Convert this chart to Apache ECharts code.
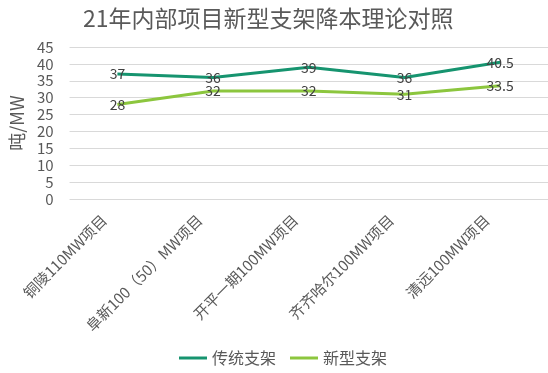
<!DOCTYPE html>
<html><head><meta charset="utf-8">
<script src="https://cdn.jsdelivr.net/npm/echarts@6/dist/echarts.min.js"></script>
<style>html,body{margin:0;padding:0;background:#fff}#c{width:548px;height:373px}</style>
</head><body><div id="c"></div>
<script>
const categories = ['铜陵110MW项目','阜新100（50）MW项目','开平一期100MW项目','齐齐哈尔100MW项目','清远100MW项目'];
const traditional = [37, 36, 39, 36, 40.5];
const newType = [28, 32, 32, 31, 33.5];
const seriesNames = ['传统支架','新型支架'];
const yTicks = {min:0, max:45, interval:5};

const font = '"Microsoft YaHei","Noto Sans CJK SC",sans-serif';
const chart = echarts.init(document.getElementById('c'));
const lbl = {show:true, position:'inside', fontSize:14, color:'#404040', fontFamily:font};
chart.setOption({
  animation:false,
  title:{text:'21年内部项目新型支架降本理论对照', left:78, top:2,
    textStyle:{fontSize:23, fontWeight:'normal', color:'#595959', fontFamily:font}},
  grid:{left:58, width:499, top:47, bottom:174},
  legend:{bottom:2, left:174, itemWidth:28, itemHeight:3, itemGap:14, icon:'rect',
    textStyle:{fontSize:16, color:'#595959', fontFamily:font}, data:seriesNames},
  xAxis:{type:'category', data:categories, boundaryGap:true,
    axisLine:{show:false}, axisTick:{show:false},
    axisLabel:{rotate:45, fontSize:15, color:'#595959', fontFamily:font, margin:5, interval:0,
      padding:[0,19,0,0]}},
  yAxis:{type:'value', min:yTicks.min, max:yTicks.max, interval:yTicks.interval,
    name:'吨/MW', nameLocation:'middle', nameGap:38, nameRotate:90,
    nameTextStyle:{fontSize:18, color:'#595959', fontFamily:font},
    axisLabel:{fontSize:15, color:'#595959', fontFamily:font, margin:16},
    splitLine:{lineStyle:{color:'#d9d9d9', width:1}}},
  series:[
    {name:seriesNames[0], type:'line', data:traditional, symbol:'circle', symbolSize:0, showSymbol:true,
      lineStyle:{color:'#16946f', width:3}, itemStyle:{color:'#16946f'}, label:lbl},
    {name:seriesNames[1], type:'line', data:newType, symbol:'circle', symbolSize:0, showSymbol:true,
      lineStyle:{color:'#8cc63e', width:3}, itemStyle:{color:'#8cc63e'}, label:lbl}
  ]
});
</script></body></html>
